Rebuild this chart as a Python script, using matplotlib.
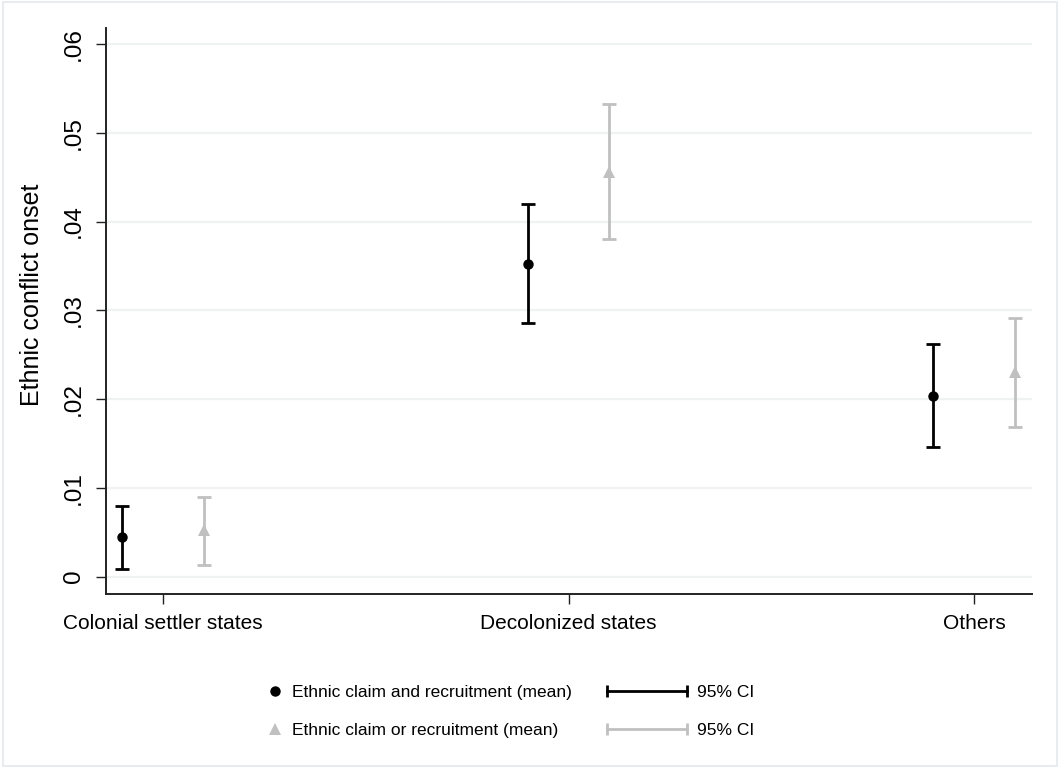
import matplotlib
matplotlib.use("Agg")
import matplotlib.pyplot as plt
import numpy as np
from matplotlib.lines import Line2D
from matplotlib.patches import Rectangle
from matplotlib.legend_handler import HandlerLine2D

plt.rcParams['font.family'] = ['Liberation Sans', 'DejaVu Sans']

# ---- data ----
categories = ["Colonial settler states", "Decolonized states", "Others"]
and_mean = [0.0045, 0.0352, 0.0204]
and_lo = [0.0009, 0.0286, 0.0146]
and_hi = [0.0080, 0.0420, 0.0262]
or_mean = [0.0053, 0.0456, 0.0230]
or_lo = [0.00135, 0.0380, 0.0169]
or_hi = [0.0090, 0.0532, 0.0291]
ytick_vals = [0, 0.01, 0.02, 0.03, 0.04, 0.05, 0.06]
ytick_labels = ["0", ".01", ".02", ".03", ".04", ".05", ".06"]
series_labels = ["Ethnic claim and recruitment (mean)", "Ethnic claim or recruitment (mean)"]
ci_label = "95% CI"
ylabel = "Ethnic conflict onset"

BLACK = "#000000"
GRAY = "#c0c0c0"
GRID = "#eef2f3"

W, H = 1059, 767
fig = plt.figure(figsize=(W / 100, H / 100), dpi=100)
fig.patch.set_facecolor("white")
ax = fig.add_axes([106 / W, 1 - 594 / H, (1032 - 106) / W, (594 - 28) / H])

x = np.arange(len(categories))
off = 0.1

def draw(xs, mean, lo, hi, color, marker, ms):
    mean = np.asarray(mean); lo = np.asarray(lo); hi = np.asarray(hi)
    ax.errorbar(xs, mean, yerr=[mean - lo, hi - mean], fmt='none', ecolor=color,
                elinewidth=2.0, capsize=4.8, capthick=2.0, zorder=3)
    ax.plot(xs, mean, linestyle='none', marker=marker, color=color, markersize=ms,
            markeredgewidth=0, zorder=4)

draw(x - off, and_mean, and_lo, and_hi, BLACK, 'o', 7.5)
draw(x + off, or_mean, or_lo, or_hi, GRAY, '^', 8)

ax.set_xlim(-0.1406, 2.143)
ax.set_ylim(-0.00195, 0.0618)
ax.set_xticks(x)
ax.set_xticklabels(categories, fontsize=15)
ax.set_yticks(ytick_vals)
ax.set_yticklabels(ytick_labels, fontsize=17.5, rotation=90, va='center')
ax.tick_params(axis='both', direction='out', length=7.2, width=1.0, color='#222222')
ax.tick_params(axis='x', pad=7)
ax.tick_params(axis='y', pad=8)
for t in ax.get_yticklabels():
    t.set_verticalalignment('center')

ax.grid(axis='y', color=GRID, linewidth=1.6, zorder=0)
ax.set_axisbelow(True)
for s in ['top', 'right']:
    ax.spines[s].set_visible(False)
for s in ['left', 'bottom']:
    ax.spines[s].set_linewidth(1.4)
    ax.spines[s].set_color('#222222')

ax.set_ylabel(ylabel, fontsize=18)
ax.yaxis.set_label_coords(-(106 - 32) / (1032 - 106), (594 - 295) / (594 - 28))
ax.yaxis.label.set_verticalalignment('center')

# ---- legends ----
fs = 12.5
h_and = Line2D([], [], linestyle='none', marker='o', color=BLACK, markersize=7.5, markeredgewidth=0)
h_or = Line2D([], [], linestyle='none', marker='^', color=GRAY, markersize=8, markeredgewidth=0)
leg1 = fig.legend([h_and, h_or], series_labels, loc='center left',
                  bbox_to_anchor=(268 / W, 1 - 711.5 / H), frameon=False, fontsize=fs,
                  handlelength=0.8, handletextpad=0.6, borderpad=0, borderaxespad=0,
                  labelspacing=1.28, numpoints=1)

c_and = Line2D([], [], color=BLACK, linewidth=2.0, marker='|', markersize=8, markeredgewidth=2.0)
c_or = Line2D([], [], color=GRAY, linewidth=2.0, marker='|', markersize=8, markeredgewidth=2.0)
leg2 = fig.legend([c_and, c_or], [ci_label, ci_label], loc='center left',
                  bbox_to_anchor=(607 / W, 1 - 711.5 / H), frameon=False, fontsize=fs,
                  handlelength=4.6, handletextpad=0.57, borderpad=0, borderaxespad=0,
                  labelspacing=1.28,
                  handler_map={Line2D: HandlerLine2D(numpoints=2, marker_pad=0.0)})

# faint outer frame
fig.patches.append(Rectangle((3 / W, 1 / H), (1057 - 3) / W, (766 - 2) / H,
                             transform=fig.transFigure, fill=False,
                             edgecolor='#e8ecef', linewidth=1.5))

fig.savefig("out.png", dpi=100, facecolor='white')
